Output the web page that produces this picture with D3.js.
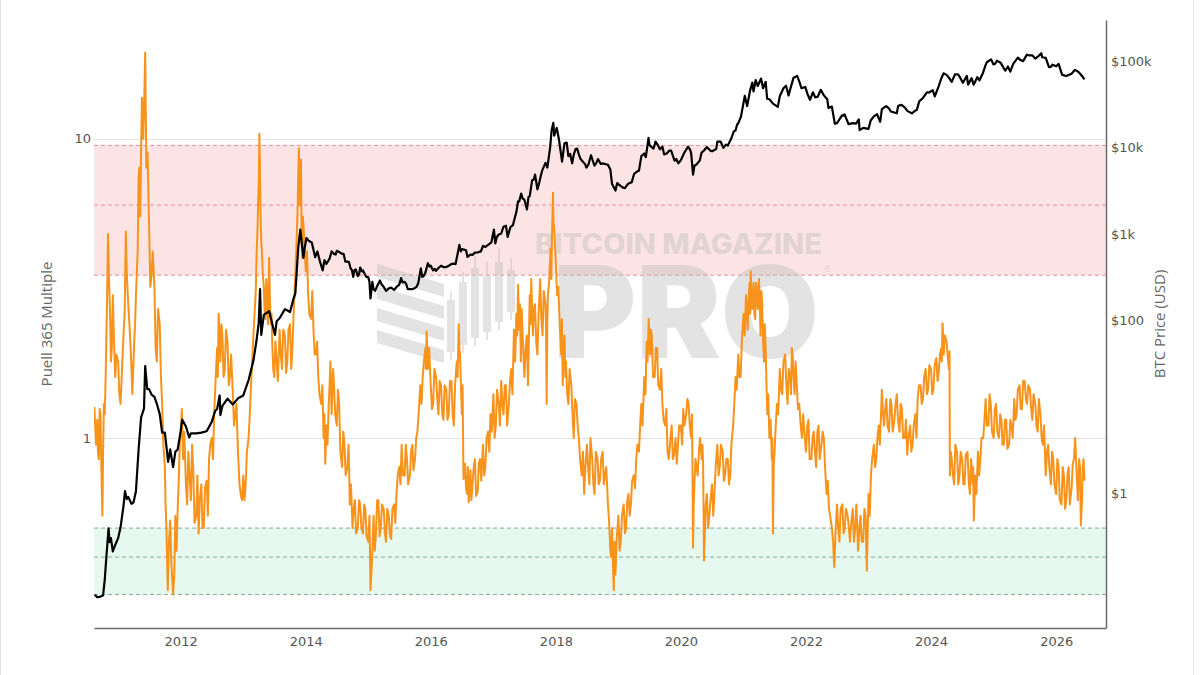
<!DOCTYPE html>
<html><head><meta charset="utf-8">
<script src="https://cdn.jsdelivr.net/npm/d3@7"></script>
<style>body{margin:0;background:#fff;} svg{display:block;}</style>
</head><body><svg id="c" width="1200" height="675"></svg>
<script>
// ---------- data ----------
const xTickYears = [2012, 2014, 2016, 2018, 2020, 2022, 2024, 2026];
const leftTicks = [1, 10];
const rightTicks = [1, 100, 1000, 10000, 100000];
const rightTickLabels = ["$1", "$100", "$1k", "$10k", "$100k"];
const redBand = [3.5, 9.5];
const redLines = [3.5, 6, 9.5];
const greenBand = [0.3, 0.5];
const greenLines = [0.3, 0.4, 0.5];
const leftTitle = "Puell 365 Multiple";
const rightTitle = "BTC Price (USD)";

// Puell Multiple readings (main pass)
const puellData = [
["2010-08-15",1.27],["2010-08-25",0.95],["2010-09-01",1.15],["2010-09-10",0.85],["2010-09-20",1.2],["2010-10-01",0.55],
["2010-10-10",1.3],["2010-10-20",1.6],["2010-11-03",4.8],["2010-11-15",2.6],["2010-11-25",2.0],["2010-12-01",3.0],
["2010-12-15",1.6],["2011-01-01",1.8],["2011-01-15",1.3],["2011-02-01",2.2],["2011-02-15",4.9],["2011-03-01",2.8],
["2011-03-15",2.0],["2011-03-25",1.4],["2011-04-05",2.1],["2011-04-15",3.0],["2011-05-01",7.5],["2011-05-10",5.5],
["2011-05-20",13.7],["2011-05-28",10],["2011-06-03",14],["2011-06-08",19.4],["2011-06-15",8],["2011-06-22",9],
["2011-07-01",5],["2011-07-15",3.5],["2011-08-01",3.2],["2011-08-15",1.8],["2011-09-01",2.4],["2011-09-15",1.3],
["2011-10-01",0.8],["2011-10-10",0.5],["2011-10-18",0.31],["2011-10-25",0.45],["2011-11-01",0.53],["2011-11-08",0.38],
["2011-11-18",0.30],["2011-11-25",0.35],["2011-12-01",0.55],["2011-12-08",0.42],["2011-12-15",0.58],["2011-12-22",0.75],
["2012-01-01",1.0],["2012-01-08",1.25],["2012-01-15",0.85],["2012-02-01",0.7],["2012-02-15",0.9],["2012-03-01",0.62],
["2012-03-15",0.78],["2012-04-01",0.55],["2012-04-15",0.48],["2012-05-01",0.7],["2012-05-15",0.5],["2012-06-01",0.72],
["2012-06-15",0.85],["2012-07-01",1.0],["2012-07-15",1.2],["2012-08-01",2.0],["2012-08-10",2.6],["2012-08-20",1.8],
["2012-09-01",2.2],["2012-09-15",1.7],["2012-10-01",2.1],["2012-10-15",1.6],["2012-11-01",1.4],["2012-11-15",1.2],
["2012-12-01",0.9],["2012-12-10",0.7],["2012-12-18",0.64],["2013-01-01",0.75],["2013-01-15",0.7],["2013-02-01",1.0],
["2013-02-15",1.5],["2013-03-01",2.2],["2013-03-15",3.1],["2013-03-25",5],["2013-04-05",10.4],["2013-04-12",5.5],
["2013-04-20",4.2],["2013-05-01",3.2],["2013-05-10",2.5],["2013-05-20",3.0],["2013-06-01",4.0],["2013-06-10",2.4],
["2013-06-20",2.0],["2013-07-01",1.6],["2013-07-15",1.8],["2013-08-01",2.3],["2013-08-15",1.7],["2013-09-01",2.2],
["2013-09-15",1.8],["2013-10-01",2.4],["2013-10-15",2.0],["2013-11-01",3.5],["2013-11-15",6],["2013-11-22",9.3],
["2013-12-01",7],["2013-12-08",4.5],["2013-12-15",5.5],["2014-01-01",3.6],["2014-01-15",3.0],["2014-02-01",2.5],
["2014-02-15",2.3],["2014-03-01",1.9],["2014-03-15",1.6],["2014-04-01",1.3],["2014-04-15",1.0],["2014-04-25",0.82],
["2014-05-01",1.1],["2014-05-15",1.3],["2014-05-25",1.8],["2014-06-05",1.4],["2014-06-15",1.5],["2014-07-01",1.1],
["2014-07-15",1.3],["2014-08-01",0.8],["2014-08-15",0.95],["2014-09-01",0.8],["2014-09-15",0.6],["2014-10-01",0.5],
["2014-10-15",0.62],["2014-11-01",0.5],["2014-11-15",0.6],["2014-12-01",0.48],["2014-12-15",0.58],["2015-01-01",0.45],
["2015-01-14",0.31],["2015-01-25",0.42],["2015-02-01",0.55],["2015-02-15",0.48],["2015-03-01",0.62],["2015-03-15",0.5],
["2015-04-01",0.58],["2015-04-15",0.45],["2015-05-01",0.55],["2015-05-15",0.46],["2015-06-01",0.6],["2015-06-15",0.65],
["2015-07-01",0.8],["2015-07-15",0.95],["2015-08-01",0.75],["2015-08-15",0.85],["2015-09-01",0.75],["2015-09-15",0.95],
["2015-10-01",0.85],["2015-10-15",1.05],["2015-11-01",1.5],["2015-11-15",1.6],["2015-12-01",2.0],["2015-12-08",2.27],
["2015-12-15",1.7],["2016-01-01",1.5],["2016-01-15",1.3],["2016-02-01",1.6],["2016-02-15",1.2],["2016-03-01",1.5],
["2016-03-15",1.15],["2016-04-01",1.45],["2016-04-15",1.2],["2016-05-01",1.55],["2016-05-15",1.1],["2016-06-01",1.8],
["2016-06-12",2.4],["2016-06-20",1.9],["2016-07-01",1.2],["2016-07-10",0.73],["2016-07-20",0.82],["2016-08-01",0.65],
["2016-08-10",0.61],["2016-08-20",0.78],["2016-09-01",0.7],["2016-09-15",0.85],["2016-10-01",0.66],["2016-10-15",0.85],
["2016-11-01",0.95],["2016-11-15",0.8],["2016-12-01",1.05],["2016-12-15",1.2],["2017-01-01",1.4],["2017-01-15",1.1],
["2017-02-01",1.3],["2017-02-15",1.55],["2017-03-01",1.2],["2017-03-15",1.5],["2017-04-01",1.3],["2017-04-15",1.7],
["2017-05-01",2.3],["2017-05-15",2.6],["2017-05-25",3.25],["2017-06-01",2.3],["2017-06-15",2.7],["2017-07-01",1.6],
["2017-07-15",2.2],["2017-08-01",3.0],["2017-08-10",3.4],["2017-08-20",2.2],["2017-09-01",2.8],["2017-09-15",1.9],
["2017-10-01",3.4],["2017-10-15",2.2],["2017-11-01",2.8],["2017-11-08",1.3],["2017-11-15",3.0],["2017-12-01",4.3],
["2017-12-15",6.6],["2017-12-22",5.0],["2018-01-01",3.8],["2018-01-15",3.2],["2018-02-01",1.9],["2018-02-10",1.5],
["2018-02-20",2.2],["2018-03-01",1.8],["2018-03-15",1.3],["2018-04-01",1.5],["2018-04-15",1.0],["2018-05-01",1.3],
["2018-05-15",1.0],["2018-06-01",0.75],["2018-06-15",0.65],["2018-07-01",0.95],["2018-07-15",0.7],["2018-08-01",0.85],
["2018-08-15",0.65],["2018-09-01",0.85],["2018-09-15",0.72],["2018-10-01",0.9],["2018-10-15",0.75],["2018-11-01",0.6],
["2018-11-15",0.42],["2018-11-25",0.5],["2018-12-05",0.31],["2018-12-15",0.35],["2019-01-01",0.55],["2019-01-15",0.45],
["2019-02-01",0.6],["2019-02-15",0.5],["2019-03-01",0.65],["2019-03-15",0.6],["2019-04-01",0.75],["2019-04-15",0.85],
["2019-05-01",0.9],["2019-05-15",1.3],["2019-06-01",1.6],["2019-06-15",2.1],["2019-06-27",2.5],["2019-07-05",1.9],
["2019-07-15",2.2],["2019-08-01",1.6],["2019-08-15",2.0],["2019-09-01",1.45],["2019-09-15",1.3],["2019-10-01",1.1],
["2019-10-15",0.9],["2019-11-01",1.0],["2019-11-15",0.85],["2019-12-01",1.0],["2019-12-15",0.95],["2020-01-01",1.1],
["2020-01-15",1.25],["2020-02-01",1.2],["2020-02-15",1.3],["2020-03-01",1.0],["2020-03-12",0.43],["2020-03-20",0.7],
["2020-04-01",0.8],["2020-04-15",0.9],["2020-05-01",0.85],["2020-05-15",0.39],["2020-05-25",0.6],["2020-06-01",0.65],
["2020-06-15",0.55],["2020-07-01",0.7],["2020-07-15",0.65],["2020-08-01",0.95],["2020-08-15",0.8],["2020-09-01",0.9],
["2020-09-15",0.75],["2020-10-01",0.85],["2020-10-15",0.75],["2020-11-01",1.1],["2020-11-15",1.6],["2020-12-01",1.9],
["2020-12-15",1.6],["2021-01-01",2.6],["2021-01-15",3.0],["2021-01-25",2.3],["2021-02-05",3.3],["2021-02-12",3.6],
["2021-02-20",2.7],["2021-03-01",3.3],["2021-03-10",2.5],["2021-03-20",3.1],["2021-04-01",3.4],["2021-04-10",2.2],
["2021-04-20",2.8],["2021-05-01",1.8],["2021-05-10",2.0],["2021-05-20",1.2],["2021-06-01",1.0],["2021-06-15",0.85],
["2021-06-22",0.48],["2021-07-01",0.9],["2021-07-15",1.3],["2021-08-01",1.7],["2021-08-15",1.4],["2021-09-01",1.9],
["2021-09-15",1.3],["2021-10-01",1.6],["2021-10-10",2.0],["2021-10-20",1.6],["2021-11-01",1.8],["2021-11-15",1.25],
["2021-12-01",1.1],["2021-12-15",1.2],["2022-01-01",0.9],["2022-01-15",1.15],["2022-02-01",0.85],["2022-02-15",1.05],
["2022-03-01",0.8],["2022-03-15",1.1],["2022-04-01",0.95],["2022-04-15",1.0],["2022-05-01",0.65],["2022-05-15",0.58],
["2022-06-01",0.5],["2022-06-15",0.37],["2022-07-01",0.6],["2022-07-15",0.45],["2022-08-01",0.6],["2022-08-15",0.5],
["2022-09-01",0.55],["2022-09-15",0.45],["2022-10-01",0.58],["2022-10-15",0.5],["2022-11-01",0.42],["2022-11-15",0.55],
["2022-12-01",0.45],["2022-12-15",0.55],["2022-12-22",0.36],["2023-01-01",0.65],["2023-01-15",0.75],["2023-02-01",0.95],
["2023-02-15",0.85],["2023-03-01",1.1],["2023-03-15",1.2],["2023-03-20",1.45],["2023-04-01",1.1],["2023-04-15",1.35],
["2023-05-01",1.05],["2023-05-15",1.3],["2023-06-01",1.15],["2023-06-15",1.4],["2023-07-01",1.05],["2023-07-15",1.25],
["2023-08-01",1.0],["2023-08-15",0.88],["2023-09-01",1.1],["2023-09-15",0.95],["2023-10-01",1.2],["2023-10-15",1.35],
["2023-11-01",1.5],["2023-11-15",1.35],["2023-12-01",1.7],["2023-12-15",1.45],["2024-01-01",1.7],["2024-01-15",1.45],
["2024-02-01",1.85],["2024-02-15",1.65],["2024-03-01",2.0],["2024-03-08",2.42],["2024-03-15",1.9],["2024-04-01",2.1],
["2024-04-15",1.7],["2024-04-20",0.75],["2024-05-01",0.85],["2024-05-15",0.7],["2024-06-01",0.9],["2024-06-15",0.75],
["2024-07-01",0.85],["2024-07-15",0.7],["2024-08-01",0.9],["2024-08-15",0.65],["2024-09-01",0.7],["2024-09-07",0.53],
["2024-09-15",0.75],["2024-10-01",0.9],["2024-10-15",0.85],["2024-11-01",1.0],["2024-11-15",1.35],["2024-12-01",1.1],
["2024-12-15",1.3],["2025-01-01",1.0],["2025-01-15",1.3],["2025-02-01",1.0],["2025-02-15",1.15],["2025-03-01",0.95],
["2025-03-15",1.15],["2025-04-01",0.95],["2025-04-15",1.1],["2025-05-01",1.35],["2025-05-15",1.2],["2025-06-01",1.5],
["2025-06-15",1.25],["2025-07-01",1.55],["2025-07-15",1.3],["2025-08-01",1.45],["2025-08-15",1.15],["2025-09-01",1.3],
["2025-09-15",1.05],["2025-10-01",1.2],["2025-10-15",0.95],["2025-11-01",0.75],["2025-11-15",0.95],["2025-12-01",0.7],
["2025-12-15",0.85],["2026-01-01",0.65],["2026-01-15",0.8],["2026-02-01",0.6],["2026-02-15",0.75],["2026-03-01",0.62],
["2026-03-15",0.8],["2026-04-01",0.68],["2026-04-15",0.85],["2026-04-22",1.0],["2026-05-01",0.75],["2026-05-15",0.85],
["2026-05-25",0.51],["2026-06-05",0.8],["2026-06-15",0.72]
];

// Puell Multiple readings (second pass, in-between days: the daily swings)
const puellExtra = [
["2010-08-20",1.1],["2010-09-05",0.9],["2010-09-15",1.25],["2010-09-25",0.8],["2010-10-05",0.9],["2010-10-15",1.2],
["2010-10-28",2.8],["2010-11-08",3.5],["2010-11-20",1.8],["2010-12-08",2.1],["2010-12-22",1.9],["2011-01-08",1.4],
["2011-01-22",1.6],["2011-02-08",2.6],["2011-02-20",3.6],["2011-03-08",2.4],["2011-03-20",1.7],["2011-04-10",2.4],
["2011-04-25",4.2],["2011-05-05",8],["2011-05-15",9],["2011-07-08",3.2],["2011-07-22",4.2],["2011-08-08",2.0],
["2011-08-22",2.7],["2011-09-08",1.6],["2011-09-22",0.95],["2011-10-05",0.6],["2011-12-28",1.0],
["2012-01-22",1.05],["2012-02-08",0.6],["2012-02-22",0.75],["2012-03-08",0.95],["2012-03-22",0.52],["2012-04-08",0.75],
["2012-04-22",0.62],["2012-05-08",0.5],["2012-05-22",0.68],["2012-06-08",0.55],["2012-06-22",0.95],["2012-07-08",0.85],
["2012-07-22",1.5],["2012-08-05",1.6],["2012-08-15",2.3],["2012-08-27",2.4],["2012-09-08",1.6],["2012-09-22",2.3],
["2012-10-08",1.5],["2012-10-22",1.9],["2012-11-08",1.1],["2012-11-22",1.3],["2012-12-05",0.8],["2012-12-25",0.62],
["2013-01-08",0.62],["2013-01-22",0.9],["2013-02-08",1.2],["2013-02-22",1.8],["2013-03-08",2.6],["2013-03-20",4.2],
["2013-03-30",6.5],["2013-04-02",7.5],["2013-04-08",8],["2013-04-16",4.5],["2013-04-25",3.5],["2013-05-05",2.7],
["2013-05-15",3.4],["2013-05-25",2.4],["2013-06-05",3.0],["2013-06-15",2.6],["2013-06-25",1.7],["2013-07-08",2.1],
["2013-07-22",1.55],["2013-08-08",1.9],["2013-08-22",2.3],["2013-09-08",1.65],["2013-09-22",2.3],["2013-10-08",1.7],
["2013-10-22",2.6],["2013-11-08",4.5],["2013-11-18",7.5],["2013-11-26",6],["2013-12-04",8.5],["2013-12-12",4],
["2013-12-20",5],["2013-12-26",4.2],["2014-01-08",4.2],["2014-01-22",2.6],["2014-02-08",3.1],["2014-02-22",1.9],
["2014-03-08",2.1],["2014-03-22",1.4],["2014-04-08",1.5],["2014-04-20",1.2],["2014-05-08",0.95],["2014-05-20",1.5],
["2014-06-01",1.2],["2014-06-10",1.7],["2014-06-22",1.2],["2014-07-08",1.45],["2014-07-22",0.9],["2014-08-08",1.05],
["2014-08-22",0.75],["2014-09-08",0.95],["2014-09-22",0.7],["2014-10-08",0.58],["2014-10-22",0.48],["2014-11-08",0.62],
["2014-11-22",0.5],["2014-12-08",0.6],["2014-12-22",0.47],["2015-01-08",0.55],["2015-01-20",0.36],["2015-02-08",0.42],
["2015-02-22",0.62],["2015-03-08",0.47],["2015-03-22",0.6],["2015-04-08",0.48],["2015-04-22",0.58],["2015-05-08",0.47],
["2015-05-22",0.58],["2015-06-08",0.52],["2015-06-22",0.75],["2015-07-08",0.7],["2015-07-22",0.75],["2015-08-08",0.95],
["2015-08-22",0.7],["2015-09-08",0.9],["2015-09-22",0.78],["2015-10-08",1.0],["2015-10-22",1.2],["2015-11-08",1.3],
["2015-11-22",1.8],["2015-12-04",1.7],["2015-12-22",2.0],["2016-01-08",1.25],["2016-01-22",1.7],["2016-02-08",1.35],
["2016-02-22",1.55],["2016-03-08",1.2],["2016-03-22",1.5],["2016-04-08",1.15],["2016-04-22",1.55],["2016-05-08",1.2],
["2016-05-22",1.5],["2016-06-06",1.6],["2016-06-16",2.0],["2016-06-26",1.45],["2016-07-05",1.5],["2016-07-15",0.75],
["2016-07-25",0.68],["2016-08-05",0.8],["2016-08-15",0.68],["2016-08-25",0.62],["2016-09-08",0.8],["2016-09-22",0.64],
["2016-10-08",0.82],["2016-10-22",0.72],["2016-11-08",0.75],["2016-11-22",1.0],["2016-12-08",0.9],["2016-12-22",1.05],
["2017-01-08",1.0],["2017-01-22",1.45],["2017-02-08",1.1],["2017-02-22",1.3],["2017-03-08",1.5],["2017-03-22",1.1],
["2017-04-08",1.55],["2017-04-22",1.4],["2017-05-08",1.8],["2017-05-20",2.2],["2017-06-05",2.8],["2017-06-10",1.8],
["2017-06-22",2.1],["2017-07-08",2.0],["2017-07-22",1.5],["2017-08-05",2.4],["2017-08-15",2.7],["2017-08-25",2.7],
["2017-09-08",2.1],["2017-09-22",2.6],["2017-10-08",2.5],["2017-10-22",3.1],["2017-11-04",2.4],["2017-11-12",2.5],
["2017-11-22",3.3],["2017-12-05",3.4],["2017-12-10",5.0],["2017-12-18",5.2],["2017-12-28",4.2],["2018-01-08",3.0],
["2018-01-22",2.5],["2018-02-05",2.5],["2018-02-15",2.0],["2018-02-25",1.6],["2018-03-08",1.4],["2018-03-22",1.7],
["2018-04-08",1.2],["2018-04-22",1.35],["2018-05-08",1.1],["2018-05-22",0.85],["2018-06-08",0.9],["2018-06-22",0.8],
["2018-07-08",0.8],["2018-07-22",1.0],["2018-08-08",0.7],["2018-08-22",0.9],["2018-09-08",0.7],["2018-09-22",0.85],
["2018-10-08",0.7],["2018-10-22",0.8],["2018-11-08",0.52],["2018-11-20",0.4],["2018-11-30",0.38],["2018-12-10",0.45],
["2018-12-22",0.46],["2019-01-08",0.42],["2019-01-22",0.55],["2019-02-08",0.48],["2019-02-22",0.62],["2019-03-08",0.55],
["2019-03-22",0.72],["2019-04-08",0.68],["2019-04-22",0.95],["2019-05-08",1.1],["2019-05-22",1.1],["2019-06-08",1.4],
["2019-06-20",1.8],["2019-07-01",2.2],["2019-07-10",2.3],["2019-07-22",1.6],["2019-08-08",2.0],["2019-08-22",1.5],
["2019-09-08",1.7],["2019-09-22",1.15],["2019-10-08",1.25],["2019-10-22",0.85],["2019-11-08",1.1],["2019-11-22",0.88],
["2019-12-08",0.82],["2019-12-22",1.1],["2020-01-08",0.95],["2020-01-22",1.1],["2020-02-08",1.35],["2020-02-22",1.1],
["2020-03-06",1.2],["2020-03-16",0.6],["2020-03-26",0.85],["2020-04-08",0.75],["2020-04-22",1.0],["2020-05-06",0.95],
["2020-05-10",0.8],["2020-05-20",0.48],["2020-06-08",0.5],["2020-06-22",0.62],["2020-07-08",0.55],["2020-07-22",0.8],
["2020-08-08",0.75],["2020-08-22",0.95],["2020-09-08",0.72],["2020-09-22",0.85],["2020-10-08",0.7],["2020-10-22",0.95],
["2020-11-08",1.3],["2020-11-22",1.45],["2020-12-08",1.6],["2020-12-22",2.1],["2021-01-08",2.2],["2021-01-20",2.7],
["2021-01-30",2.9],["2021-02-08",2.6],["2021-02-16",3.1],["2021-02-25",3.0],["2021-03-05",2.6],["2021-03-15",3.3],
["2021-03-25",2.7],["2021-04-05",2.9],["2021-04-15",3.1],["2021-04-25",2.1],["2021-05-05",2.4],["2021-05-15",1.5],
["2021-05-25",1.4],["2021-06-08",1.15],["2021-06-18",1.0],["2021-06-26",0.8],["2021-07-08",1.1],["2021-07-22",1.2],
["2021-08-08",1.45],["2021-08-22",1.8],["2021-09-08",1.5],["2021-09-22",1.7],["2021-10-05",1.4],["2021-10-15",1.9],
["2021-10-26",1.4],["2021-11-08",1.5],["2021-11-22",1.3],["2021-12-08",1.0],["2021-12-22",1.05],["2022-01-08",1.1],
["2022-01-22",0.85],["2022-02-08",1.0],["2022-02-22",0.9],["2022-03-08",1.05],["2022-03-22",0.85],["2022-04-08",1.05],
["2022-04-22",0.8],["2022-05-08",0.72],["2022-05-22",0.55],["2022-06-08",0.45],["2022-06-22",0.48],["2022-07-08",0.5],
["2022-07-22",0.58],["2022-08-08",0.48],["2022-08-22",0.58],["2022-09-08",0.5],["2022-09-22",0.52],["2022-10-08",0.45],
["2022-10-22",0.6],["2022-11-08",0.5],["2022-11-22",0.45],["2022-12-08",0.58],["2023-01-08",0.55],["2023-01-22",0.85],
["2023-02-08",0.8],["2023-02-22",1.0],["2023-03-08",0.95],["2023-03-25",1.25],["2023-04-08",1.25],["2023-04-22",1.1],
["2023-05-08",1.35],["2023-05-22",1.05],["2023-06-08",1.3],["2023-06-22",1.15],["2023-07-08",1.3],["2023-07-22",1.0],
["2023-08-08",1.15],["2023-08-22",1.0],["2023-09-08",0.9],["2023-09-22",1.1],["2023-10-08",1.0],["2023-10-22",1.5],
["2023-11-08",1.3],["2023-11-22",1.6],["2023-12-08",1.4],["2023-12-22",1.75],["2024-01-08",1.4],["2024-01-22",1.75],
["2024-02-08",1.55],["2024-02-22",1.9],["2024-03-04",1.8],["2024-03-12",2.2],["2024-03-22",2.2],["2024-04-08",1.85],
["2024-04-18",1.95],["2024-04-25",0.9],["2024-05-08",0.75],["2024-05-22",0.95],["2024-06-08",0.7],["2024-06-22",0.9],
["2024-07-08",0.7],["2024-07-22",0.88],["2024-08-08",0.72],["2024-08-22",0.85],["2024-09-03",0.8],["2024-09-22",0.65],
["2024-10-08",0.75],["2024-10-22",1.0],["2024-11-08",1.15],["2024-11-22",1.1],["2024-12-08",1.4],["2024-12-22",1.05],
["2025-01-08",1.25],["2025-01-22",1.05],["2025-02-08",1.2],["2025-02-22",0.95],["2025-03-08",1.15],["2025-03-22",0.92],
["2025-04-08",1.15],["2025-04-22",1.0],["2025-05-08",1.15],["2025-05-22",1.45],["2025-06-08",1.25],["2025-06-22",1.55],
["2025-07-08",1.35],["2025-07-22",1.5],["2025-08-08",1.25],["2025-08-22",1.4],["2025-09-08",1.1],["2025-09-22",1.35],
["2025-10-08",1.0],["2025-10-22",1.1],["2025-11-08",0.9],["2025-11-22",0.8],["2025-12-08",0.9],["2025-12-22",0.7],
["2026-01-08",0.85],["2026-01-22",0.62],["2026-02-08",0.8],["2026-02-22",0.58],["2026-03-08",0.75],["2026-03-22",0.6],
["2026-04-08",0.82],["2026-05-08",0.62],["2026-05-20",0.8],["2026-06-01",0.62],["2026-06-10",0.85]
];

// BTC price readings (USD)
const priceData = [
["2010-08-17",0.066],["2010-09-01",0.062],["2010-09-20",0.063],["2010-10-05",0.065],["2010-10-15",0.10],["2010-10-25",0.19],
["2010-11-06",0.39],["2010-11-12",0.27],["2010-11-20",0.30],["2010-12-01",0.21],["2010-12-15",0.25],["2011-01-01",0.30],
["2011-01-15",0.40],["2011-02-01",0.70],["2011-02-10",1.05],["2011-02-20",0.85],["2011-03-01",0.90],["2011-03-20",0.75],
["2011-04-01",0.78],["2011-04-15",1.05],["2011-05-01",3.3],["2011-05-15",7.5],["2011-06-01",9.5],["2011-06-08",29.6],
["2011-06-20",16],["2011-07-01",16],["2011-07-15",13.8],["2011-08-01",13],["2011-08-15",10.8],["2011-09-01",8.2],
["2011-09-15",5.0],["2011-10-01",5.0],["2011-10-20",2.3],["2011-11-01",3.2],["2011-11-18",2.0],["2011-12-01",3.0],
["2011-12-15",3.2],["2012-01-01",5.2],["2012-01-10",7.1],["2012-02-01",5.9],["2012-02-20",4.4],["2012-03-01",4.9],
["2012-04-01",4.9],["2012-05-01",5.0],["2012-06-01",5.2],["2012-07-01",6.7],["2012-07-20",8.9],["2012-08-01",9.4],
["2012-08-16",13.5],["2012-08-20",8.0],["2012-09-01",10.2],["2012-10-01",12.4],["2012-11-01",10.6],["2012-12-01",12.5],
["2013-01-01",13.5],["2013-02-01",20.4],["2013-03-01",34],["2013-03-20",60],["2013-04-01",93],["2013-04-09",230],
["2013-04-16",68],["2013-05-01",116],["2013-06-01",128],["2013-07-05",68],["2013-07-15",98],["2013-08-01",106],
["2013-09-01",135],["2013-10-01",125],["2013-10-20",175],["2013-11-01",205],["2013-11-18",700],["2013-11-30",1130],
["2013-12-18",530],["2013-12-25",680],["2014-01-05",900],["2014-01-20",830],["2014-02-05",800],["2014-02-25",540],
["2014-03-10",630],["2014-04-10",380],["2014-04-20",500],["2014-05-01",450],["2014-06-01",630],["2014-06-15",590],
["2014-07-01",640],["2014-08-01",590],["2014-08-20",480],["2014-09-01",480],["2014-09-20",400],["2014-10-05",320],
["2014-10-20",390],["2014-11-01",325],["2014-11-15",410],["2014-12-01",380],["2014-12-20",320],["2015-01-01",315],
["2015-01-14",180],["2015-01-25",280],["2015-02-10",220],["2015-03-10",290],["2015-04-01",245],["2015-05-01",235],
["2015-06-01",225],["2015-07-01",260],["2015-07-12",310],["2015-08-01",280],["2015-08-20",230],["2015-09-01",230],
["2015-10-01",238],["2015-10-20",270],["2015-11-04",400],["2015-11-12",320],["2015-12-01",360],["2015-12-15",460],
["2016-01-01",430],["2016-01-15",380],["2016-02-01",375],["2016-03-01",430],["2016-04-01",415],["2016-05-01",450],
["2016-05-25",450],["2016-06-16",750],["2016-06-25",630],["2016-07-15",660],["2016-08-02",545],["2016-09-01",575],
["2016-10-01",615],["2016-11-01",730],["2016-12-01",750],["2016-12-20",800],["2017-01-04",1130],["2017-01-12",780],
["2017-02-01",990],["2017-03-01",1220],["2017-03-25",930],["2017-04-10",1200],["2017-05-01",1420],["2017-05-25",2400],
["2017-06-01",2400],["2017-06-12",2950],["2017-07-01",2500],["2017-07-16",1930],["2017-08-01",2750],["2017-08-15",4200],
["2017-09-01",4900],["2017-09-15",3300],["2017-10-01",4400],["2017-10-20",5900],["2017-11-01",6700],["2017-11-12",5900],
["2017-11-28",10000],["2017-12-07",16000],["2017-12-17",19500],["2017-12-22",13800],["2018-01-06",17000],["2018-01-20",12000],
["2018-02-06",6900],["2018-02-20",11300],["2018-03-05",11500],["2018-03-15",8000],["2018-04-06",6600],["2018-04-25",9600],
["2018-05-05",9800],["2018-05-25",7400],["2018-06-10",6800],["2018-06-28",5900],["2018-07-25",8200],["2018-08-14",6200],
["2018-09-04",7400],["2018-10-01",6600],["2018-11-01",6350],["2018-11-15",5600],["2018-11-25",3800],["2018-12-15",3200],
["2018-12-25",3900],["2019-01-15",3600],["2019-02-08",3400],["2019-03-01",3850],["2019-04-03",5000],["2019-05-01",5400],
["2019-05-15",8000],["2019-06-01",8600],["2019-06-26",13000],["2019-07-15",10200],["2019-08-06",11800],["2019-09-01",9600],
["2019-09-25",8400],["2019-10-26",9300],["2019-11-25",7100],["2019-12-17",6600],["2020-01-01",7200],["2020-02-12",10300],
["2020-03-01",8600],["2020-03-12",4900],["2020-04-01",6400],["2020-05-01",8800],["2020-06-01",10200],["2020-07-01",9100],
["2020-08-01",11800],["2020-09-05",10000],["2020-10-01",10600],["2020-10-21",12800],["2020-11-15",15900],["2020-12-01",19200],
["2020-12-17",23000],["2021-01-08",40000],["2021-01-22",30500],["2021-02-08",46000],["2021-02-21",57000],["2021-02-28",45000],
["2021-03-13",61000],["2021-03-25",52000],["2021-04-13",63500],["2021-04-25",49000],["2021-05-10",58000],["2021-05-19",37000],
["2021-06-01",36500],["2021-06-22",32500],["2021-07-20",29800],["2021-08-01",39800],["2021-08-22",49000],["2021-09-06",52500],
["2021-09-21",40500],["2021-10-01",48000],["2021-10-20",65000],["2021-11-10",68000],["2021-11-25",57000],["2021-12-05",49000],
["2021-12-27",50700],["2022-01-10",41800],["2022-01-24",36000],["2022-02-10",44000],["2022-02-24",38300],["2022-03-28",47000],
["2022-04-15",40500],["2022-05-05",36500],["2022-05-12",29000],["2022-06-01",30000],["2022-06-18",19000],["2022-07-01",19300],
["2022-07-30",23800],["2022-08-14",24400],["2022-09-06",18800],["2022-10-01",19300],["2022-11-05",21300],["2022-11-10",16000],
["2022-12-01",17000],["2022-12-30",16550],["2023-01-14",20900],["2023-02-01",23100],["2023-03-10",20000],["2023-03-20",28000],
["2023-04-14",30500],["2023-05-12",26300],["2023-06-15",25100],["2023-06-23",30600],["2023-07-13",31400],["2023-08-17",26600],
["2023-09-11",25100],["2023-10-01",27000],["2023-10-24",34500],["2023-11-15",37800],["2023-12-08",44000],["2024-01-11",46500],
["2024-01-23",39500],["2024-02-15",52000],["2024-03-14",73000],["2024-04-01",70000],["2024-05-01",58000],["2024-05-20",71000],
["2024-06-07",71000],["2024-07-05",56700],["2024-07-28",68000],["2024-08-05",54000],["2024-09-06",53900],["2024-09-27",65800],
["2024-10-29",72500],["2024-11-12",88000],["2024-11-22",98000],["2024-12-17",106000],["2024-12-30",92600],["2025-01-20",102000],
["2025-02-10",97000],["2025-02-28",84000],["2025-03-10",78500],["2025-04-08",76300],["2025-04-25",94000],["2025-05-22",111000],
["2025-06-22",101000],["2025-07-14",120000],["2025-08-14",118000],["2025-09-01",108000],["2025-10-06",124700],["2025-10-11",112000],
["2025-11-01",110000],["2025-11-20",86000],["2025-12-10",92000],["2026-01-01",88000],["2026-01-15",94000],["2026-02-05",70000],
["2026-03-01",68000],["2026-04-01",72000],["2026-04-20",80000],["2026-05-10",76000],["2026-06-01",68000],["2026-06-15",62000]
];

// BTC price readings (second pass, in-between days)
const priceExtra = [
["2014-03-25",480],["2014-05-20",520],["2014-06-25",580],["2014-07-15",620],["2014-08-10",590],["2014-09-10",475],
["2014-09-28",380],["2014-10-12",380],["2014-11-08",340],["2014-11-25",370],["2014-12-10",350],["2015-01-08",280],
["2015-02-01",230],["2015-02-20",245],["2015-03-20",260],["2015-04-15",220],["2015-05-15",240],["2015-06-15",245],
["2015-07-20",275],["2015-08-10",265],["2015-09-15",230],["2015-10-10",245],["2015-11-20",325],["2015-12-25",420],
["2016-01-25",395],["2016-02-15",405],["2016-03-15",415],["2016-04-15",430],["2016-05-15",455],["2016-06-05",580],
["2016-07-01",670],["2016-07-25",650],["2016-08-20",580],["2016-09-15",610],["2016-10-20",630],["2016-11-15",710],
["2017-01-20",920],["2017-02-15",1010],["2017-03-15",1250],["2017-04-25",1270],["2017-05-15",1800],["2017-06-20",2600],
["2017-07-25",2700],["2017-08-25",4300],["2017-09-25",3900],["2017-10-12",5400],["2018-01-15",13700],["2018-03-25",8500],
["2018-04-15",8300],["2018-05-15",8400],["2018-06-20",6500],["2018-07-10",6400],["2018-08-25",6700],["2018-09-20",6500],
["2018-10-20",6450],["2019-01-01",3800],["2019-01-30",3450],["2019-02-25",3800],["2019-03-20",4000],["2019-04-25",5400],
["2019-06-10",7800],["2019-07-01",10800],["2019-07-25",9800],["2019-08-20",10700],["2019-09-15",10300],["2019-10-10",8600],
["2019-11-05",9300],["2019-12-05",7400],["2020-01-20",8700],["2020-02-25",9400],["2020-03-20",6200],["2020-04-20",7100],
["2020-05-15",9300],["2020-06-20",9300],["2020-07-25",9700],["2020-08-20",11800],["2020-09-20",10900],["2020-11-05",15500],
["2020-11-25",18700],["2022-03-10",39000],["2022-08-01",23300],["2022-10-20",19100],["2023-01-01",16600],["2023-02-20",24500],
["2023-05-01",28500],["2023-08-01",29200],["2023-10-10",27400],["2023-12-20",43700],["2024-02-28",62000],["2024-04-18",63500],
["2024-06-20",64500],["2024-08-25",64200],["2024-10-10",60500],["2025-01-10",94500],["2025-03-25",87500],["2025-06-05",104500],
["2025-07-25",118000],["2025-09-20",115800],["2025-12-01",86500]
];

// ---------- layout ----------
const W = 1200, H = 675;
const L = 94, R = 1106, T = 20, B = 628;
const svg = d3.select("#c");
const parse = d3.utcParse("%Y-%m-%d");

const x = d3.scaleUtc().domain([parse("2010-08-13"), parse("2026-10-19")]).range([L, R]);
const yL = d3.scaleLog().domain([0.2318, 24.93]).range([B, T]);
const yR = d3.scaleLog().domain([0.02727, 302700]).range([B, T]);

const byDate = (a, b) => a[0] - b[0];
const puellAll = puellData.concat(puellExtra).map(d => [parse(d[0]), d[1]]).sort(byDate);
const priceAll = priceData.concat(priceExtra).map(d => [parse(d[0]), d[1]]).sort(byDate);

// page border
svg.append("line").attr("x1", 0.5).attr("x2", 0.5).attr("y1", 0).attr("y2", H).attr("stroke", "#e3e3e3");
svg.append("line").attr("x1", 1193.5).attr("x2", 1193.5).attr("y1", 0).attr("y2", H).attr("stroke", "#e3e3e3");

// zones
svg.append("rect").attr("x", L).attr("width", R - L)
  .attr("y", yL(redBand[1])).attr("height", yL(redBand[0]) - yL(redBand[1])).attr("fill", "#fde4e4");
svg.append("rect").attr("x", L).attr("width", R - L)
  .attr("y", yL(greenBand[1])).attr("height", yL(greenBand[0]) - yL(greenBand[1])).attr("fill", "#e7f8f0");

// gridlines
svg.append("g").selectAll("line").data(leftTicks).join("line")
  .attr("x1", L).attr("x2", R).attr("y1", d => Math.round(yL(d)) + 0.5).attr("y2", d => Math.round(yL(d)) + 0.5)
  .attr("stroke", "#e4e4e4").attr("stroke-width", 1);

// zone dashed lines
svg.append("g").selectAll("line").data(redLines).join("line")
  .attr("x1", L).attr("x2", R).attr("y1", d => yL(d)).attr("y2", d => yL(d))
  .attr("stroke", "#e58f9a").attr("stroke-width", 1).attr("stroke-dasharray", "4,3");
svg.append("g").selectAll("line").data(greenLines).join("line")
  .attr("x1", L).attr("x2", R).attr("y1", d => yL(d)).attr("y2", d => yL(d))
  .attr("stroke", "#84ad93").attr("stroke-width", 1).attr("stroke-dasharray", "4,3");

// watermark
const wm = svg.append("g").attr("fill", "#bdbdbd").attr("opacity", 0.42);
wm.append("text").attr("x", 535).attr("y", 254).attr("font-family", "Inter, 'DejaVu Sans', sans-serif")
  .attr("font-weight", 800).attr("font-size", 28).attr("textLength", 287).attr("lengthAdjust", "spacingAndGlyphs")
  .text("BITCOIN MAGAZINE");
wm.append("text").attr("x", 553).attr("y", 358).attr("font-family", "Inter, 'DejaVu Sans', sans-serif")
  .attr("font-weight", 900).attr("font-size", 128).attr("textLength", 266).attr("lengthAdjust", "spacingAndGlyphs")
  .text("PRO");
wm.append("text").attr("x", 823).attr("y", 272).attr("font-family", "DejaVu Sans, sans-serif")
  .attr("font-size", 9).text("®");
const stripes = [0, 1, 2, 3];
wm.selectAll("path.st").data(stripes).join("path").attr("class", "st")
  .attr("d", i => `M377,${264 + i * 22} L444,${284 + i * 22} L444,${297 + i * 22} L377,${277 + i * 22} Z`);
const candles = [[451, 300, 352, 292], [463, 282, 345, 272], [475, 268, 338, 256], [487, 276, 332, 262], [499, 262, 322, 248], [511, 270, 312, 258]];
candles.forEach(c => {
  wm.append("rect").attr("x", c[0] - 4).attr("y", c[1]).attr("width", 8).attr("height", c[2] - c[1]);
  wm.append("rect").attr("x", c[0] - 1).attr("y", c[3]).attr("width", 2).attr("height", c[2] - c[3] + 8);
});

// clip
svg.append("clipPath").attr("id", "clip").append("rect").attr("x", L).attr("y", T).attr("width", R - L).attr("height", B - T);

// lines
const puellLine = d3.line().x(d => x(d[0])).y(d => yL(d[1]));
const priceLine = d3.line().x(d => x(d[0])).y(d => yR(d[1]));
svg.append("path").datum(puellAll).attr("clip-path", "url(#clip)").attr("d", puellLine)
  .attr("fill", "none").attr("stroke", "#f7931a").attr("stroke-width", 2).attr("stroke-linejoin", "round");
svg.append("path").datum(priceAll).attr("clip-path", "url(#clip)").attr("d", priceLine)
  .attr("fill", "none").attr("stroke", "#000").attr("stroke-width", 2.2).attr("stroke-linejoin", "round");

// axes
const tickFont = "'DejaVu Sans', Verdana, sans-serif";
const xAxis = svg.append("g").attr("transform", `translate(0,${B})`)
  .call(d3.axisBottom(x).tickValues(xTickYears.map(yv => new Date(Date.UTC(yv, 0, 1))))
    .tickFormat(d3.utcFormat("%Y")).tickSize(0).tickSizeOuter(0).tickPadding(9));
xAxis.select(".domain").attr("stroke", "#6b6b6b").attr("stroke-width", 1.5);
xAxis.selectAll("text").attr("font-family", tickFont).attr("font-size", 13).attr("fill", "#555");

const lAxis = svg.append("g").attr("transform", `translate(${L},0)`)
  .call(d3.axisLeft(yL).tickValues(leftTicks).tickFormat(d3.format("d")).tickSize(0).tickPadding(3));
lAxis.select(".domain").remove();
lAxis.selectAll("text").attr("font-family", tickFont).attr("font-size", 13).attr("fill", "#555");

const rAxis = svg.append("g").attr("transform", `translate(${R},0)`)
  .call(d3.axisRight(yR).tickValues(rightTicks).tickFormat((d, i) => rightTickLabels[i]).tickSize(0).tickSizeOuter(0).tickPadding(5));
rAxis.select(".domain").attr("stroke", "#6b6b6b").attr("stroke-width", 1.5);
rAxis.selectAll("text").attr("font-family", tickFont).attr("font-size", 13).attr("fill", "#555");

// axis titles
svg.append("text").attr("transform", "translate(52,324) rotate(-90)").attr("text-anchor", "middle")
  .attr("font-family", "'Open Sans', sans-serif").attr("font-size", 15).attr("fill", "#666").text(leftTitle);
svg.append("text").attr("transform", "translate(1165,324) rotate(-90)").attr("text-anchor", "middle")
  .attr("font-family", "'Open Sans', sans-serif").attr("font-size", 15).attr("fill", "#666").text(rightTitle);
</script></body></html>
